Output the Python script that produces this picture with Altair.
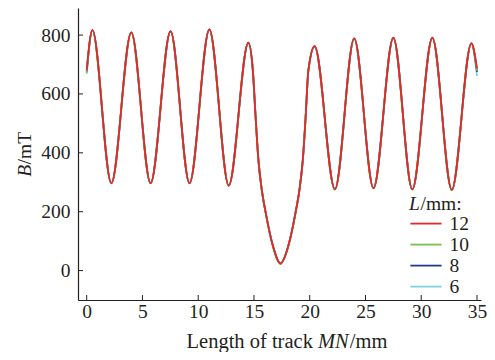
import altair as alt
import pandas as pd

# ---- data ----
X_MM = [0.00, 0.51, 2.21, 4.00, 5.73, 7.52, 9.22, 11.00, 12.74, 14.50, 14.90, 15.15,
        15.40, 15.70, 16.06, 16.72, 17.38, 18.06, 18.72, 19.08, 19.38, 19.63, 19.88,
        20.44, 22.26, 23.99, 25.72, 27.50, 29.20, 31.00, 32.74, 34.50, 35.00]
B_12 = [680, 817, 297, 809, 297, 813, 297, 819, 289, 774, 680, 520, 375, 275, 195, 81, 24,
        81, 195, 275, 375, 520, 680, 762, 276, 789, 280, 791, 276, 791, 274, 772, 687]
B_10 = [672, 816, 296, 808, 296, 812, 296, 818, 288, 773, 679, 519, 374, 274, 194, 80, 23,
        80, 194, 274, 374, 519, 679, 761, 275, 788, 279, 790, 275, 790, 273, 771, 679]
B_8 = [676, 817, 297, 809, 297, 813, 297, 819, 289, 774, 680, 520, 375, 275, 195, 81, 24,
       81, 195, 275, 375, 520, 680, 762, 276, 789, 280, 791, 276, 791, 274, 772, 675]
B_6 = [668, 816, 297, 808, 297, 812, 297, 818, 289, 773, 679, 519, 375, 275, 195, 81, 24,
       81, 195, 275, 375, 519, 679, 761, 276, 788, 280, 790, 276, 790, 274, 771, 661]

SERIES = ["12", "10", "8", "6"]
COLORS = ["#e5262b", "#7cc04b", "#1f3d8c", "#7fd2e2"]
X_TICKS = [0, 5, 10, 15, 20, 25, 30, 35]
Y_TICKS = [0, 200, 400, 600, 800]

# ---- build table (12 last so red is drawn on top) ----
rows = []
for name, vals in [("6", B_6), ("8", B_8), ("10", B_10), ("12", B_12)]:
    for x, b in zip(X_MM, vals):
        rows.append({"x": x, "B": b, "L": name})
df = pd.DataFrame(rows)

FONT = "Liberation Serif"
FS = 19.5
TFS = 20.5
INK = "#231f20"
W, H = 403, 292

xscale = alt.Scale(domain=[-0.78, 35.36], nice=False, zero=False)
yscale = alt.Scale(domain=[-100, 892], nice=False, zero=False)
xaxis = alt.Axis(title=None, values=X_TICKS, labelPadding=2)
yaxis = alt.Axis(title=None, values=Y_TICKS, labelPadding=8)

lines = alt.Chart(df).mark_line(strokeWidth=1.8, interpolate="monotone").encode(
    x=alt.X("x:Q", scale=xscale, axis=xaxis),
    y=alt.Y("B:Q", scale=yscale, axis=yaxis),
    color=alt.Color("L:N",
                    scale=alt.Scale(domain=SERIES, range=COLORS),
                    legend=alt.Legend(title=None, orient="none", legendX=337, legendY=204.6,
                                      padding=0, rowPadding=0,
                                      symbolType="M-1.6,0H1.6", symbolSize=380,
                                      symbolStrokeWidth=1.8, labelOffset=12.4,
                                      labelFont=FONT, labelFontSize=FS, labelColor=INK)),
)

xt = alt.Chart(pd.DataFrame({"t": X_TICKS})).mark_rule(color=INK, strokeWidth=1).encode(
    x=alt.X("t:Q", scale=xscale, axis=xaxis),
    y=alt.value(H), y2=alt.value(H - 5),
)
yt = alt.Chart(pd.DataFrame({"t": Y_TICKS})).mark_rule(color=INK, strokeWidth=1).encode(
    y=alt.Y("t:Q", scale=yscale, axis=yaxis),
    x=alt.value(0), x2=alt.value(5),
)


def label(txt, x, y, italic=False, align="left", angle=0, size=TFS):
    kw = dict(font=FONT, fontSize=size, color=INK, align=align, baseline="alphabetic")
    if italic:
        kw["fontStyle"] = "italic"
    if angle:
        kw["angle"] = angle
    return alt.Chart(pd.DataFrame({"s": [txt]})).mark_text(**kw).encode(
        text="s:N", x=alt.value(x), y=alt.value(y))


TY = 339.5
texts = [
    # x-axis title
    label("Length of track", 234.9, TY, align="right"),
    label("MN", 240.0, TY, italic=True),
    label("/mm", 271.8, TY),
    # y-axis title (rotated)
    label("B", -47, 168.7, italic=True, angle=270, size=FS),
    label("/mT", -47, 156.4, angle=270, size=FS),
    # legend title
    label("L", 331, 202, italic=True, size=FS),
    label("/mm:", 342.5, 202, size=FS),
]

chart = alt.layer(lines, xt, yt, *texts).properties(
    width=W, height=H,
    autosize="none",
    padding={"left": 70, "top": 0, "right": 6, "bottom": 52},
).configure_view(stroke="transparent").configure_axis(
    domainColor=INK, domainWidth=1.2, ticks=False, tickSize=0, grid=False,
    labelFont=FONT, labelFontSize=FS, labelColor=INK,
)

chart.save("out.html", embed_options={"renderer": "svg", "actions": False})
